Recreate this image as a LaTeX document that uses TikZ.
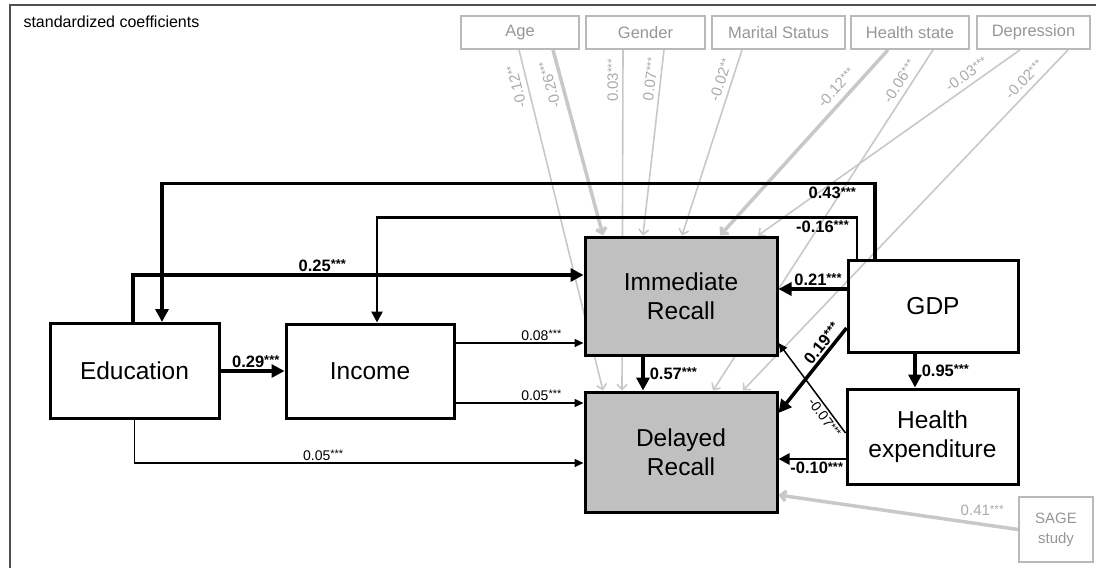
\documentclass[tikz,border=0pt]{standalone}
\usepackage{fontspec}
\setmainfont{Liberation Sans}
\usetikzlibrary{arrows.meta,backgrounds}

\definecolor{recallgrey}{RGB}{192,192,192}
\definecolor{ctrlline}{RGB}{200,200,200}
\definecolor{ctrledge}{RGB}{185,185,185}
\definecolor{ctrltext}{RGB}{150,150,150}
\definecolor{ctrllab}{RGB}{170,170,170}
\definecolor{framegrey}{RGB}{80,80,80}

\newcommand{\coefval}[2]{#1\raisebox{0.16em}{\scalebox{0.78}{#2}}}

\begin{document}
\begin{tikzpicture}[x=1pt, y=-1pt,
    var/.style={draw, line width=3pt, align=center, inner sep=0pt, font=\fontsize{24.5}{29.5}\selectfont},
    outcome/.style={var, fill=recallgrey},
    ctrlvar/.style={draw=ctrledge, line width=1.8pt, text=ctrltext, inner sep=0pt, minimum height=33pt, font=\fontsize{16.5}{19}\selectfont},
    strongarr/.style={line width=3.5pt, -{Triangle[length=13pt,width=13pt]}},
    midarr/.style={line width=2.6pt, -{Triangle[length=11pt,width=11pt]}},
    weakarr/.style={line width=1.5pt, -{Triangle[length=9pt,width=8pt]}},
    ctrlarr/.style={color=ctrlline, line width=1.6pt, -{Straight Barb[length=5pt,width=10pt]}},
    ctrlthick/.style={ctrlarr, line width=3.5pt},
    coefb/.style={inner sep=2pt, font=\bfseries\fontsize{16.5}{18}\selectfont},
    coefn/.style={inner sep=2pt, font=\fontsize{14}{16}\selectfont},
    ctrllabel/.style={text=ctrllab, inner sep=3pt, font=\fontsize{15}{17}\selectfont}]
    %--------------------%
    % Canvas
    %--------------------%
    \useasboundingbox (0,0) rectangle (1096,568);
    \draw[framegrey, line width=1.5pt] (10,568) -- (10,5) -- (1096,5);
    \node[anchor=base west, font=\fontsize{16}{18}\selectfont] (title) at (20,27) {standardized coefficients};

    %--------------------%
    % Main variables
    %--------------------%
    \node[var, minimum width=169pt, minimum height=95pt] (edu) at (134.5,371) {Education};
    \node[var, minimum width=168pt, minimum height=94pt] (inc) at (370,371) {Income};
    \node[outcome, minimum width=192pt, minimum height=118pt] (imm) at (681,296) {Immediate\\Recall};
    \node[outcome, minimum width=192pt, minimum height=120pt] (del) at (681,452) {Delayed\\Recall};
    \node[var, minimum width=170pt, minimum height=92pt] (gdp) at (933,306) {GDP};
    \node[var, minimum width=171pt, minimum height=95pt] (hex) at (932.5,436.5) {Health\\expenditure};

    %--------------------%
    % Control variables
    %--------------------%
    \node[ctrlvar, minimum width=118pt] (age) at (520,32.5) {Age};
    \node[ctrlvar, minimum width=119pt] (gender) at (645.5,32.5) {Gender};
    \node[ctrlvar, minimum width=133pt] (marital) at (778.5,32.5) {Marital Status};
    \node[ctrlvar, minimum width=118pt] (hstate) at (910,32.5) {Health state};
    \node[ctrlvar, minimum width=113pt] (depr) at (1033.5,32.5) {Depression};
    \node[ctrlvar, minimum width=74pt, minimum height=65pt, align=center, font=\fontsize{15}{20}\selectfont] (sage) at (1056,529.5) {SAGE\\study};

    %--------------------%
    % Control paths
    %--------------------%
    \begin{scope}[on background layer]
    \draw[ctrlarr] ([xshift=-1pt]age.south) -- node[ctrllabel, sloped, rotate=180, above=2pt, pos=0.1] (lage12) {\coefval{-0.12}{**}} ([xshift=-78pt]del.north);
    \draw[ctrlthick] ([xshift=33pt]age.south) -- node[ctrllabel, sloped, rotate=180, above=2pt, pos=0.17] (lage26) {\coefval{-0.26}{***}} ([xshift=-78pt]imm.north);
    \draw[ctrlarr] ([xshift=-22.5pt]gender.south) -- node[ctrllabel, sloped, above=1pt, pos=0.09] (lgen03) {\coefval{0.03}{***}} ([xshift=-59pt]del.north);
    \draw[ctrlarr] ([xshift=18.5pt]gender.south) -- node[ctrllabel, sloped, above=1pt, pos=0.165] (lgen07) {\coefval{0.07}{***}} ([xshift=-38pt]imm.north);
    \draw[ctrlarr] ([xshift=-36.5pt]marital.south) -- node[ctrllabel, sloped, above=2pt, pos=0.18] (lmar02) {\coefval{-0.02}{**}} ([xshift=1pt]imm.north);
    \draw[ctrlthick] ([xshift=-22pt]hstate.south) -- node[ctrllabel, sloped, above=3pt, pos=0.25] (lhs12) {\coefval{-0.12}{***}} ([xshift=39pt]imm.north);
    \draw[ctrlarr] ([xshift=23pt]hstate.south) -- node[ctrllabel, sloped, above=2pt, pos=0.11] (lhs06) {\coefval{-0.06}{***}} ([xshift=32pt]del.north);
    \draw[ctrlarr] ([xshift=-13.5pt]depr.south) -- node[ctrllabel, sloped, above=2pt, pos=0.18] (ldep03) {\coefval{-0.03}{***}} ([xshift=77pt]imm.north);
    \draw[ctrlarr] ([xshift=34.5pt]depr.south) -- node[ctrllabel, sloped, above=2pt, pos=0.11] (ldep02) {\coefval{-0.02}{***}} ([xshift=62pt]del.north);
    \draw[ctrlthick] (sage.west) -- node[ctrllabel, above=4pt, pos=0.15] (lsage) {\coefval{0.41}{***}} ([yshift=-43pt]del.east);
    \end{scope}

    %--------------------%
    % Structural paths
    %--------------------%
    % GDP to Education and Income
    \draw[strongarr] ([xshift=-58pt]gdp.north) -- ++(0,-75) -| node[coefb, below, pos=0.03] (l43) {\coefval{0.43}{***}} ([xshift=27.5pt]edu.north);
    \draw[midarr] ([xshift=-76pt]gdp.north) -- ++(0,-41) -| node[coefb, below, pos=0.036] (l16) {\coefval{-0.16}{***}} ([xshift=7pt]inc.north);

    % Education and Income to recall
    \draw[strongarr] ([xshift=-1.5pt]edu.north) |- node[coefb, above, pos=0.71] (l25) {\coefval{0.25}{***}} ([yshift=21pt]imm.west);
    \draw[strongarr] (edu.east) -- node[coefb, above, pos=0.55] (l29) {\coefval{0.29}{***}} (inc.west);
    \coordinate (inc08) at ([yshift=28pt]inc.east);
    \draw[weakarr] (inc08) -- node[coefn, above, pos=0.67] (l08) {\coefval{0.08}{***}} (inc08 -| imm.west);
    \coordinate (inc05) at ([yshift=-32pt]inc.east);
    \draw[weakarr] (inc05) -- node[coefn, above, pos=0.67] (l05a) {\coefval{0.05}{***}} (inc05 -| del.west);
    \draw[weakarr] (edu.south) |- node[coefn, above, pos=0.71] (l05b) {\coefval{0.05}{***}} ([yshift=-11pt]del.west);
    \draw[strongarr] ([xshift=-38pt]imm.south) -- node[coefb, right=3pt] (l57) {\coefval{0.57}{***}} ([xshift=-38pt]del.north);

    % GDP and Health expenditure to recall
    \coordinate (gdp21) at ([yshift=17pt]gdp.west);
    \draw[strongarr] (gdp21) -- node[coefb, above, pos=0.42] (l21) {\coefval{0.21}{***}} (gdp21 -| imm.east);
    \draw[strongarr] ([yshift=-22pt]gdp.west) -- node[coefb, sloped, above, pos=0.25] (l19) {\coefval{0.19}{***}} ([yshift=39pt]del.east);
    \draw[strongarr] ([xshift=-18pt]gdp.south) -- node[coefb, right=3pt] (l95) {\coefval{0.95}{***}} ([xshift=-17.5pt]hex.north);
    \draw[weakarr] ([yshift=3.5pt]hex.west) -- node[coefn, sloped, below, pos=0.22] (l07) {\coefval{-0.07}{***}} ([yshift=-47pt]imm.east);
    \coordinate (hex10) at ([yshift=-22.5pt]hex.west);
    \draw[midarr] (hex10) -- node[coefb, below, pos=0.43] (l10) {\coefval{-0.10}{***}} (hex10 -| del.east);

\end{tikzpicture}
\end{document}
